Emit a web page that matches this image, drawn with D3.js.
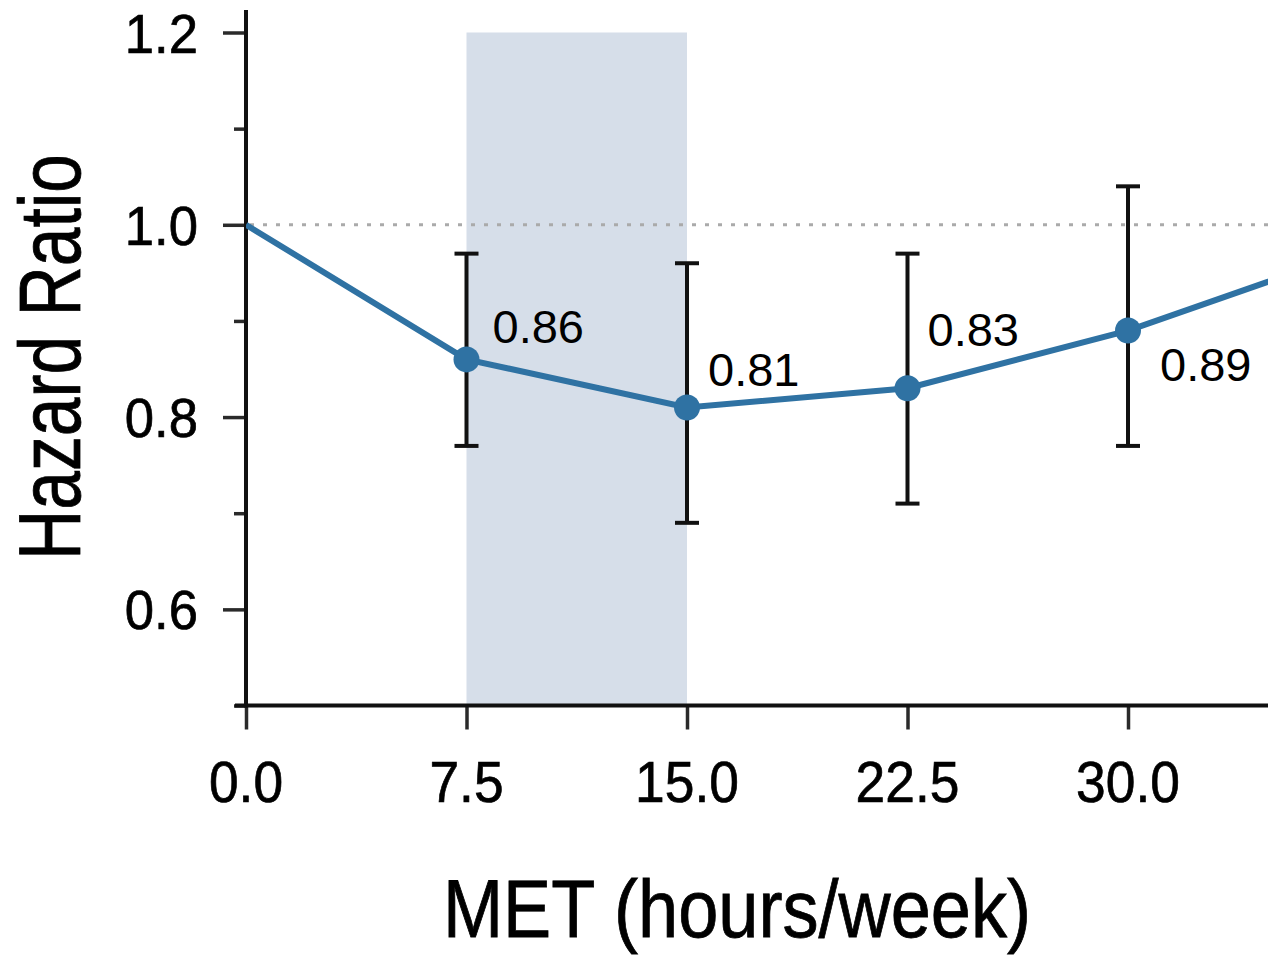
<!DOCTYPE html>
<html><head><meta charset="utf-8">
<script src="https://cdn.jsdelivr.net/npm/d3@7"></script>
<style>html,body{margin:0;padding:0;background:#fff;}svg{display:block;}</style>
</head><body>
<svg id="c" width="1268" height="956"></svg>
<script>
// ---- data ----
const lineMET = [0, 7.5, 15, 22.5, 30, 37.5];
const lineHR  = [1.0, 0.86, 0.81, 0.83, 0.89, 0.97];
const pointMET = [7.5, 15, 22.5, 30];
const pointHR  = [0.86, 0.81, 0.83, 0.89];
const ciLow    = [0.77, 0.69, 0.71, 0.77];
const ciHigh   = [0.97, 0.96, 0.97, 1.04];
const pointLabels = ["0.86", "0.81", "0.83", "0.89"];
const xTicks = [0, 7.5, 15, 22.5, 30];
const xTickLabels = ["0.0", "7.5", "15.0", "22.5", "30.0"];
const yMajor = [0.6, 0.8, 1.0, 1.2];
const yMajorLabels = ["0.6", "0.8", "1.0", "1.2"];
const yMinor = [0.5, 0.7, 0.9, 1.1];
const shadeRange = [7.5, 15];
const refLine = 1.0;
// label placement (layout, not data)
const labelDx = [26, 21, 20, 32];
const labelDy = [-16, -21, -42, 50];

const svg = d3.select("#c");
const x = d3.scaleLinear().domain([0, 30]).range([246, 1128]);
const y = d3.scaleLinear().domain([0.5, 1.2]).range([705.5, 32.5]);
const W = 1268;
const FONT = "Liberation Sans, Arial, Helvetica, sans-serif";

svg.append("defs").append("clipPath").attr("id","clip")
  .append("rect").attr("x", 246).attr("y", 0).attr("width", W - 246).attr("height", 706);

// shaded band
svg.append("rect")
  .attr("x", x(shadeRange[0])).attr("y", y(1.2))
  .attr("width", x(shadeRange[1]) - x(shadeRange[0]))
  .attr("height", y(0.5) - y(1.2))
  .attr("fill", "#d6dee9");

// reference dotted line
svg.append("line")
  .attr("x1", x(0) + 4).attr("x2", W).attr("y1", y(refLine)).attr("y2", y(refLine))
  .attr("stroke", "#aaaaaa").attr("stroke-width", 3).attr("stroke-dasharray", "4 9");

// y axis major ticks
const yAxisMajor = d3.axisLeft(y).tickValues(yMajor).tickSize(23).tickFormat(()=>"");
const gy = svg.append("g").attr("transform", `translate(${x(0)},0)`).call(yAxisMajor);
gy.select(".domain").remove();
gy.selectAll(".tick line").attr("stroke", "#2a2a2a").attr("stroke-width", 3.5);
const yAxisMinor = d3.axisLeft(y).tickValues(yMinor).tickSize(12).tickFormat(()=>"");
const gy2 = svg.append("g").attr("transform", `translate(${x(0)},0)`).call(yAxisMinor);
gy2.select(".domain").remove();
gy2.selectAll(".tick line").attr("stroke", "#2a2a2a").attr("stroke-width", 3.5);

// y tick labels
svg.append("g").selectAll("text").data(yMajor).join("text")
  .attr("transform", d => `translate(198,${y(d) + 20}) scale(0.94,1)`)
  .attr("text-anchor", "end")
  .attr("font-family", FONT)
  .attr("font-size", 56)
  .attr("fill", "#000").attr("stroke", "#000").attr("stroke-width", 0.7)
  .text((d,i) => yMajorLabels[i]);

// x axis ticks
const xAxis = d3.axisBottom(x).tickValues(xTicks).tickSize(24).tickFormat(()=>"");
const gx = svg.append("g").attr("transform", `translate(0,${y(0.5)})`).call(xAxis);
gx.select(".domain").remove();
gx.selectAll(".tick line").attr("stroke", "#2a2a2a").attr("stroke-width", 3.5);

svg.append("g").selectAll("text").data(xTicks).join("text")
  .attr("transform", d => `translate(${x(d)},802) scale(0.92,1)`)
  .attr("text-anchor", "middle")
  .attr("font-family", FONT)
  .attr("font-size", 58)
  .attr("fill", "#000").attr("stroke", "#000").attr("stroke-width", 0.7)
  .text((d,i) => xTickLabels[i]);

// axis lines
svg.append("line").attr("x1", x(0)).attr("x2", x(0)).attr("y1", 10).attr("y2", y(0.5) + 2)
  .attr("stroke", "#111").attr("stroke-width", 4);
svg.append("line").attr("x1", 235).attr("x2", W).attr("y1", y(0.5)).attr("y2", y(0.5))
  .attr("stroke", "#111").attr("stroke-width", 4);

// error bars
const eb = svg.append("g");
pointMET.forEach((m, i) => {
  const cx = x(m);
  eb.append("line").attr("x1", cx).attr("x2", cx).attr("y1", y(ciHigh[i])).attr("y2", y(ciLow[i]))
    .attr("stroke", "#111").attr("stroke-width", 4);
  [ciLow[i], ciHigh[i]].forEach(v => {
    eb.append("line").attr("x1", cx - 12).attr("x2", cx + 12).attr("y1", y(v)).attr("y2", y(v))
      .attr("stroke", "#111").attr("stroke-width", 4);
  });
});

// line
const lineData = lineMET.map((m, i) => [m, lineHR[i]]);
svg.append("path").datum(lineData)
  .attr("clip-path", "url(#clip)")
  .attr("d", d3.line().x(d => x(d[0])).y(d => y(d[1])))
  .attr("fill", "none").attr("stroke", "#2f72a3").attr("stroke-width", 6);

// markers
svg.append("g").selectAll("circle").data(pointMET).join("circle")
  .attr("cx", d => x(d)).attr("cy", (d,i) => y(pointHR[i])).attr("r", 13)
  .attr("fill", "#2f72a3");

// point labels
svg.append("g").selectAll("text").data(pointMET).join("text")
  .attr("x", (d,i) => x(d) + labelDx[i])
  .attr("y", (d,i) => y(pointHR[i]) + labelDy[i])
  .attr("font-family", FONT)
  .attr("font-size", 47)
  .attr("fill", "#000")
  .text((d,i) => pointLabels[i]);

// axis titles
svg.append("text")
  .attr("transform", "translate(80,357) rotate(-90) scale(0.8,1)")
  .attr("text-anchor", "middle")
  .attr("font-family", FONT)
  .attr("font-size", 87)
  .attr("fill", "#000").attr("stroke", "#000").attr("stroke-width", 0.8)
  .text("Hazard Ratio");

svg.append("text")
  .attr("transform", "translate(737,937) scale(0.88,1)")
  .attr("text-anchor", "middle")
  .attr("font-family", FONT)
  .attr("font-size", 82)
  .attr("fill", "#000").attr("stroke", "#000").attr("stroke-width", 0.8)
  .text("MET (hours/week)");
</script>
</body></html>
